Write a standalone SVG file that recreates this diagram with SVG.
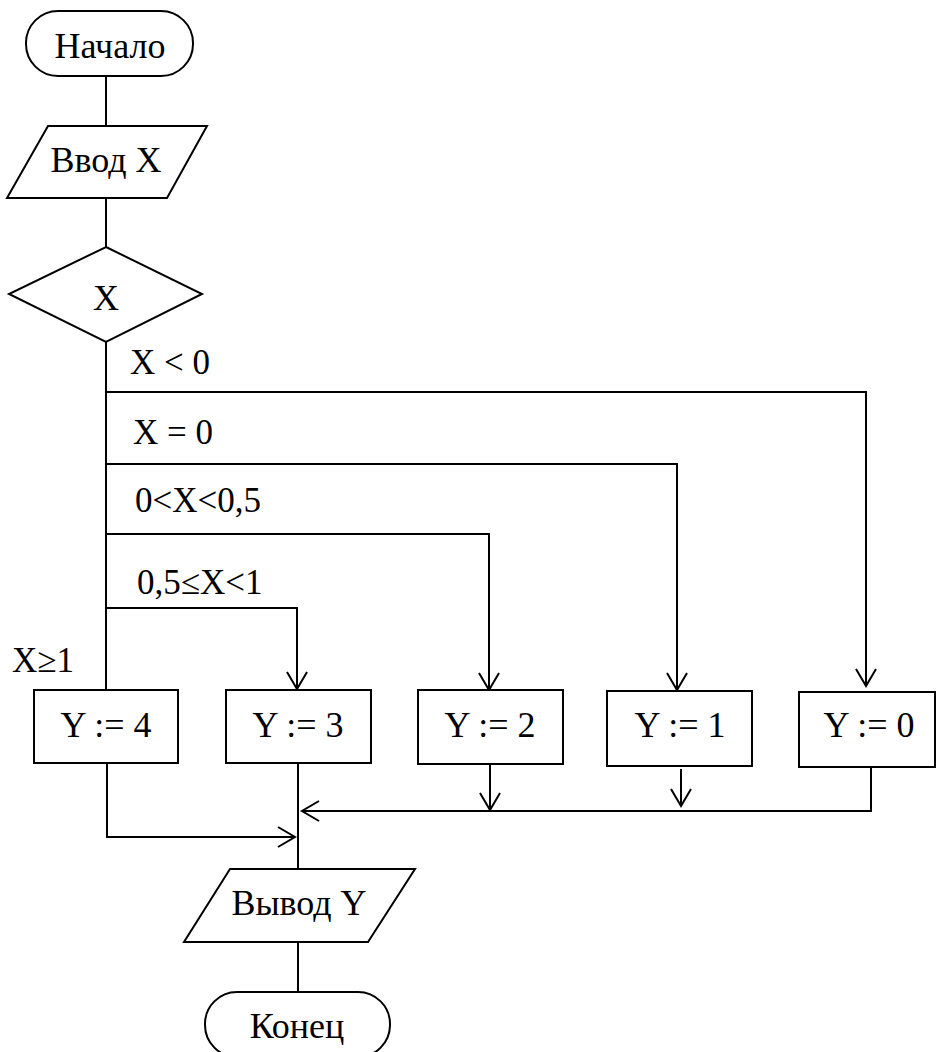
<svg xmlns="http://www.w3.org/2000/svg" width="937" height="1052" viewBox="0 0 937 1052">
<style>
  .shape { fill: #fff; stroke: #000; stroke-width: 2; }
  .conn { fill: none; stroke: #000; stroke-width: 2; }
  text { font-family: 'Liberation Serif', 'DejaVu Serif', serif; fill: #000; }
  .t { font-size: 36px; text-anchor: middle; }
  .lbl { font-size: 35px; }
</style>
<defs>
  <marker id="arr" markerUnits="userSpaceOnUse" markerWidth="24" markerHeight="24" viewBox="-20 -12 24 24" refX="0" refY="0" orient="auto">
    <path d="M-17,-10 L0,0 L-17,10" fill="none" stroke="#000" stroke-width="2"/>
  </marker>
</defs>
<g id="connectors">
  <path class="conn" d="M106,76 V126"/>
  <path class="conn" d="M106,198 V247"/>
  <path class="conn" d="M106,342 V690"/>
  <path class="conn" d="M106,392 H866 V686" marker-end="url(#arr)"/>
  <path class="conn" d="M106,464 H677 V690" marker-end="url(#arr)"/>
  <path class="conn" d="M106,534 H489 V690" marker-end="url(#arr)"/>
  <path class="conn" d="M106,608 H297 V689" marker-end="url(#arr)"/>
  <path class="conn" d="M107,763 V837 H295" marker-end="url(#arr)"/>
  <path class="conn" d="M298,763 V869"/>
  <path class="conn" d="M490,764 V810" marker-end="url(#arr)"/>
  <path class="conn" d="M681,769 V806" marker-end="url(#arr)"/>
  <path class="conn" d="M871,767 V811 H302" marker-end="url(#arr)"/>
  <path class="conn" d="M298,942 V992"/>
  <text class="lbl" x="130" y="374" font-family="Liberation Serif, serif">X &lt; 0</text>
  <text class="lbl" x="133" y="444" font-family="Liberation Serif, serif">X = 0</text>
  <text class="lbl" x="135" y="512" font-family="Liberation Serif, serif">0&lt;X&lt;0,5</text>
  <text class="lbl" x="137" y="594" font-family="Liberation Serif, serif">0,5≤X&lt;1</text>
  <text class="lbl" x="12" y="672" font-family="Liberation Serif, serif">X≥1</text>
</g>
<g id="start">
  <rect class="shape" x="26" y="11" width="167" height="65" rx="32" ry="32"/>
  <text class="t" x="110" y="58" font-family="Liberation Serif, serif">Начало</text>
</g>
<g id="input">
  <polygon class="shape" points="48,126 207,126 167,198 7,198"/>
  <text class="t" x="106" y="172" font-family="Liberation Serif, serif">Ввод X</text>
</g>
<g id="decision">
  <polygon class="shape" points="106,247 202,294 106,342 9,294"/>
  <text class="t" x="106" y="310" font-family="Liberation Serif, serif">X</text>
</g>
<g id="y4">
  <rect class="shape" x="34" y="690" width="144" height="73"/>
  <text class="t" x="106" y="737" font-family="Liberation Serif, serif">Y := 4</text>
</g>
<g id="y3">
  <rect class="shape" x="226" y="690" width="145" height="73"/>
  <text class="t" x="298" y="737" font-family="Liberation Serif, serif">Y := 3</text>
</g>
<g id="y2">
  <rect class="shape" x="418" y="690" width="145" height="74"/>
  <text class="t" x="490" y="737" font-family="Liberation Serif, serif">Y := 2</text>
</g>
<g id="y1">
  <rect class="shape" x="607" y="691" width="145" height="75"/>
  <text class="t" x="680" y="737" font-family="Liberation Serif, serif">Y := 1</text>
</g>
<g id="y0">
  <rect class="shape" x="799" y="692" width="136" height="75"/>
  <text class="t" x="869" y="737" font-family="Liberation Serif, serif">Y := 0</text>
</g>
<g id="output">
  <polygon class="shape" points="230,869 415,869 368,942 184,942"/>
  <text class="t" x="299" y="915" font-family="Liberation Serif, serif">Вывод Y</text>
</g>
<g id="end">
  <rect class="shape" x="205" y="992" width="185" height="65" rx="32" ry="32"/>
  <text class="t" x="297" y="1038" font-family="Liberation Serif, serif">Конец</text>
</g>
</svg>
